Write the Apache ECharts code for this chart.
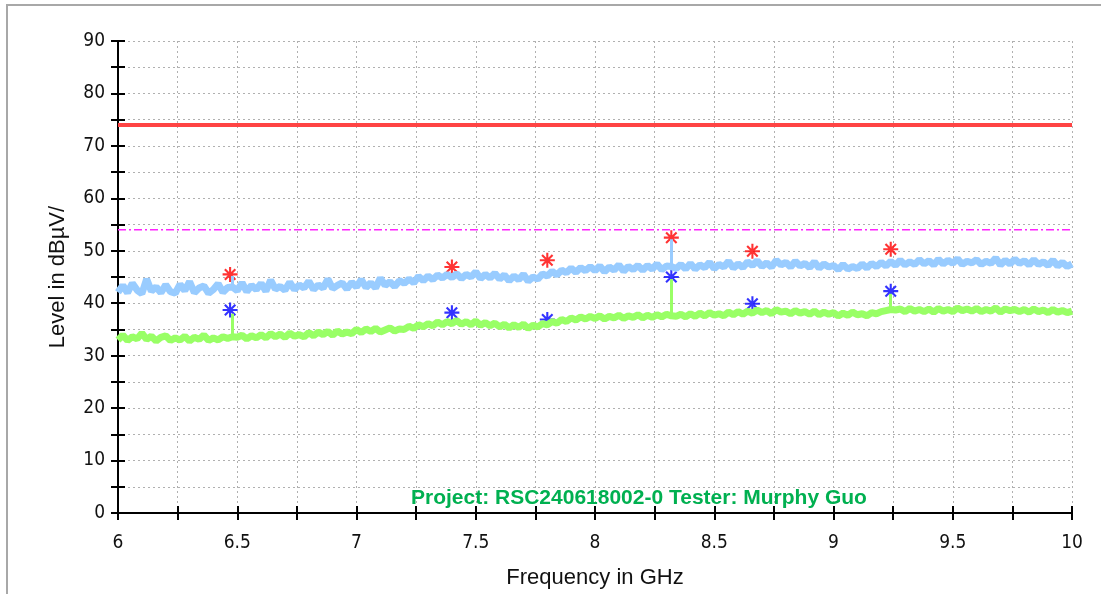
<!DOCTYPE html>
<html>
<head>
<meta charset="utf-8">
<script src="https://cdn.jsdelivr.net/npm/echarts@6/dist/echarts.min.js"></script>
<style>
    html, body {margin: 0; padding: 0; background: #fff;}
    #chart {width: 1101px; height: 594px;}
</style>
</head>
<body>
<div id="chart"></div>
<script>
// sweep: 6 GHz .. 10 GHz, one reading every 20 MHz
const freqStart = 6.0;
const freqStep = 0.02;

// peak trace (light blue), dBuV
const peakLevel = [
    42.1, 43.4, 42.0, 43.8, 42.5, 41.8, 44.6, 42.3, 43.1, 42.0,
    43.5, 42.2, 41.9, 43.6, 42.4, 44.1, 42.0, 42.9, 43.3, 41.9,
    42.6, 43.7, 42.1, 43.0, 43.1, 42.4, 43.9, 42.2, 43.4, 42.6,
    43.8, 42.3, 44.4, 42.7, 43.2, 42.5, 44.0, 42.6, 43.5, 42.9,
    44.2, 42.6, 43.5, 42.9, 44.6, 42.8, 43.4, 43.9, 42.7, 44.0,
    43.1, 44.5, 43.0, 43.9, 42.9, 44.8, 43.4, 44.1, 43.2, 44.3,
    43.8, 44.6, 43.9, 45.1, 44.3, 45.2, 44.5, 45.4, 44.8, 45.5,
    44.9, 45.6, 44.7, 45.5, 45.0, 46.0, 44.7, 45.5, 44.8, 45.7,
    44.6, 45.4, 44.3, 45.2, 44.5, 45.5, 44.2, 45.0, 44.6, 45.6,
    45.2, 46.1, 45.4, 46.3, 45.8, 46.7, 45.9, 46.8, 46.2, 47.0,
    46.2, 47.1, 46.0, 46.9, 46.3, 47.3, 46.1, 47.0, 46.4, 47.2,
    46.3, 47.2, 46.5, 47.5, 46.4, 47.1, 47.0, 46.6, 47.4, 46.5,
    47.6, 46.5, 47.3, 46.8, 47.8, 46.6, 47.4, 46.9, 48.0, 46.7,
    47.5, 46.8, 47.9, 47.2, 48.1, 47.0, 47.7, 46.9, 48.2, 47.3,
    47.8, 46.9, 48.0, 47.1, 47.6, 46.8, 47.9, 46.7, 47.5, 46.9,
    47.2, 46.4, 47.4, 46.5, 47.0, 46.6, 47.5, 46.7, 47.6, 47.0,
    47.8, 47.1, 48.0, 47.2, 48.2, 47.3, 47.9, 47.4, 48.3, 47.5,
    48.1, 47.3, 48.4, 47.5, 48.2, 47.6, 48.5, 47.4, 48.0, 47.7,
    48.3, 47.4, 48.0, 47.6, 48.6, 47.3, 48.2, 47.5, 48.4, 47.6,
    48.1, 47.3, 48.3, 47.4, 47.9, 47.2, 48.2, 47.1, 47.8, 47.0,
    47.5
];

// average trace (light green), dBuV
const avgLevel = [
    33.0, 33.9, 32.9, 33.6, 33.2, 34.3, 33.1, 33.7, 32.8, 33.5,
    33.8, 32.9, 33.4, 33.0, 33.7, 32.8, 33.5, 33.1, 33.9, 32.9,
    33.4, 33.0, 33.6, 33.3, 33.6, 33.5, 33.9, 33.2, 33.8, 33.4,
    34.0, 33.4, 34.2, 33.6, 34.1, 33.5, 34.3, 33.7, 34.0, 33.6,
    34.4, 33.8, 34.5, 34.0, 34.6, 33.9, 34.7, 34.1, 34.5, 34.2,
    35.0, 34.4, 35.1, 34.6, 35.2, 34.5, 34.9, 35.3, 34.7, 35.1,
    35.0, 35.6, 35.2, 35.9, 35.5, 36.1, 35.7, 36.4, 35.9, 36.5,
    36.1, 36.7, 36.0, 36.5, 35.9, 36.6, 35.8, 36.3, 35.7, 36.2,
    35.5, 36.0, 35.3, 35.9, 35.4, 36.0, 35.2, 35.8, 35.5, 36.1,
    35.9, 36.5, 36.2, 36.9, 36.5, 37.2, 36.8, 37.4, 37.0, 37.5,
    37.1, 37.6, 37.0, 37.5, 37.2, 37.7, 37.1, 37.6, 37.3, 37.8,
    37.2, 37.7, 37.3, 37.8, 37.4, 37.9, 37.6, 37.5, 37.9, 37.4,
    38.0, 37.5, 38.1, 37.6, 38.2, 37.7, 38.0, 37.6, 38.3, 37.8,
    38.4, 37.9, 38.5, 38.1, 38.7, 38.2, 38.6, 38.0, 38.8, 38.3,
    38.5, 38.0, 38.6, 38.1, 38.4, 37.9, 38.5, 37.8, 38.3, 37.9,
    38.2, 37.6, 38.1, 37.7, 38.3, 37.8, 38.0, 37.6, 38.2, 38.0,
    38.4, 38.6, 38.8, 38.7, 38.9, 38.4, 39.0, 38.5, 38.8, 38.4,
    38.9, 38.3, 39.0, 38.5, 38.8, 38.4, 39.1, 38.6, 38.9, 38.5,
    39.0, 38.4, 38.8, 38.5, 39.1, 38.3, 38.9, 38.6, 38.8, 38.4,
    38.8, 38.3, 38.9, 38.4, 38.7, 38.2, 38.8, 38.3, 38.6, 38.2,
    38.5
];

// narrow spikes on the traces: frequency, base level, top level
const peakSpikeFreq = [6.48, 8.32];
const peakSpikeBase = [43.0, 47.0];
const peakSpikeTop = [45.2, 52.2];
const avgSpikeFreq = [6.48, 8.32, 9.24];
const avgSpikeBase = [33.6, 37.6, 38.8];
const avgSpikeTop = [38.0, 44.6, 41.8];

// final measurement points
const markFreq = [6.47, 7.40, 7.80, 8.32, 8.66, 9.24];
const markPeak = [45.5, 46.9, 48.2, 52.5, 49.9, 50.3];
const markAvg = [38.7, 38.2, 36.9, 45.0, 39.9, 42.3];

// limit lines
const limitPeak = 74;
const limitAvg = 54;

const projectText = 'Project: RSC240618002-0 Tester: Murphy Guo';

const asterisk = 'path://M0 8.6L20 8.6L20 11.4L0 11.4Z M8.6 0L11.4 0L11.4 20L8.6 20Z ' +
    'M2.0 4.0L4.0 2.0L18.0 16.0L16.0 18.0Z M16.0 2.0L18.0 4.0L4.0 18.0L2.0 16.0Z';

function pairs(levels) {
    return levels.map(function (v, i) {
        return [+(freqStart + i * freqStep).toFixed(2), v];
    });
}

function spikes(freq, base, top) {
    return freq.map(function (f, i) {
        return [{coord: [f, base[i]]}, {coord: [f, top[i]]}];
    });
}

const labelFont = {color: '#111', fontSize: 19, fontFamily: '"DejaVu Sans Condensed", "Liberation Sans", sans-serif'};
const titleFont = {color: '#111', fontSize: 22, fontFamily: 'Liberation Sans'};
const gridLine = {show: true, lineStyle: {color: '#b0b0b0', width: 1, type: [2, 3]}};

let myChart = echarts.init(document.getElementById('chart'));
myChart.setOption({
    animation: false,
    backgroundColor: '#fff',
    grid: {left: 118, right: 29, top: 41, bottom: 77},
    graphic: [{
        type: 'rect',
        shape: {x: 7, y: 5, width: 1200, height: 700},
        style: {fill: 'none', stroke: '#a8a8a8', lineWidth: 2},
        silent: true
    }, {
        type: 'text',
        left: 411,
        top: 488,
        z: 100,
        style: {
            text: projectText,
            fill: '#00b050',
            font: 'bold 21px "Liberation Sans"'
        }
    }],
    xAxis: [{
        type: 'value',
        min: 6,
        max: 10,
        interval: 0.25,
        name: 'Frequency in GHz',
        nameLocation: 'middle',
        nameGap: 54,
        nameTextStyle: titleFont,
        axisLine: {onZero: false, lineStyle: {color: '#000', width: 2}},
        axisTick: {length: 7, lineStyle: {color: '#000', width: 2}},
        axisLabel: Object.assign({
            margin: 21,
            formatter: function (v) {
                return Math.abs(v * 2 - Math.round(v * 2)) < 1e-6 ? String(v) : '';
            }
        }, labelFont),
        splitLine: gridLine
    }, {
        type: 'value',
        position: 'bottom',
        min: 6,
        max: 10,
        interval: 0.25,
        axisLine: {show: false},
        axisTick: {inside: true, length: 7, lineStyle: {color: '#000', width: 2}},
        axisLabel: {show: false},
        splitLine: {show: false}
    }],
    yAxis: [{
        type: 'value',
        min: 0,
        max: 90,
        interval: 5,
        name: 'Level in dBµV/',
        nameLocation: 'middle',
        nameGap: 49,
        nameTextStyle: titleFont,
        axisLine: {show: true, onZero: false, lineStyle: {color: '#000', width: 2}},
        axisTick: {show: true, length: 7, lineStyle: {color: '#000', width: 2}},
        axisLabel: Object.assign({
            margin: 13,
            formatter: function (v) {
                return v % 10 === 0 ? String(v) : '';
            }
        }, labelFont),
        splitLine: gridLine
    }, {
        type: 'value',
        position: 'left',
        min: 0,
        max: 90,
        interval: 5,
        axisLine: {show: false},
        axisTick: {show: true, inside: true, length: 7, lineStyle: {color: '#000', width: 2}},
        axisLabel: {show: false},
        splitLine: {show: false}
    }],
    series: [{
        // markers sit under the traces
        type: 'scatter',
        symbol: asterisk,
        symbolSize: 15,
        itemStyle: {color: '#ff0000'},
        data: markFreq.map(function (f, i) { return [f, markPeak[i]]; })
    }, {
        type: 'scatter',
        symbol: asterisk,
        symbolSize: 15,
        itemStyle: {color: '#0000ff'},
        data: markFreq.map(function (f, i) { return [f, markAvg[i]]; })
    }, {
        type: 'line',
        showSymbol: false,
        lineStyle: {color: '#99ccff', width: 7},
        data: pairs(peakLevel),
        markLine: {
            silent: true,
            symbol: 'none',
            label: {show: false},
            lineStyle: {color: '#99ccff', width: 3, type: 'solid'},
            data: spikes(peakSpikeFreq, peakSpikeBase, peakSpikeTop)
        }
    }, {
        type: 'line',
        showSymbol: false,
        lineStyle: {color: '#99ff66', width: 7},
        data: pairs(avgLevel),
        markLine: {
            silent: true,
            symbol: 'none',
            label: {show: false},
            lineStyle: {color: '#99ff66', width: 3, type: 'solid'},
            data: spikes(avgSpikeFreq, avgSpikeBase, avgSpikeTop)
        }
    }, {
        type: 'line',
        showSymbol: false,
        lineStyle: {color: '#ff4444', width: 4},
        data: [[6, limitPeak], [10, limitPeak]]
    }, {
        type: 'line',
        showSymbol: false,
        lineStyle: {color: '#ff22ff', width: 1.5, type: [8, 3, 2, 3]},
        data: [[6, limitAvg], [10, limitAvg]]
    }]
});
</script>
</body>
</html>
